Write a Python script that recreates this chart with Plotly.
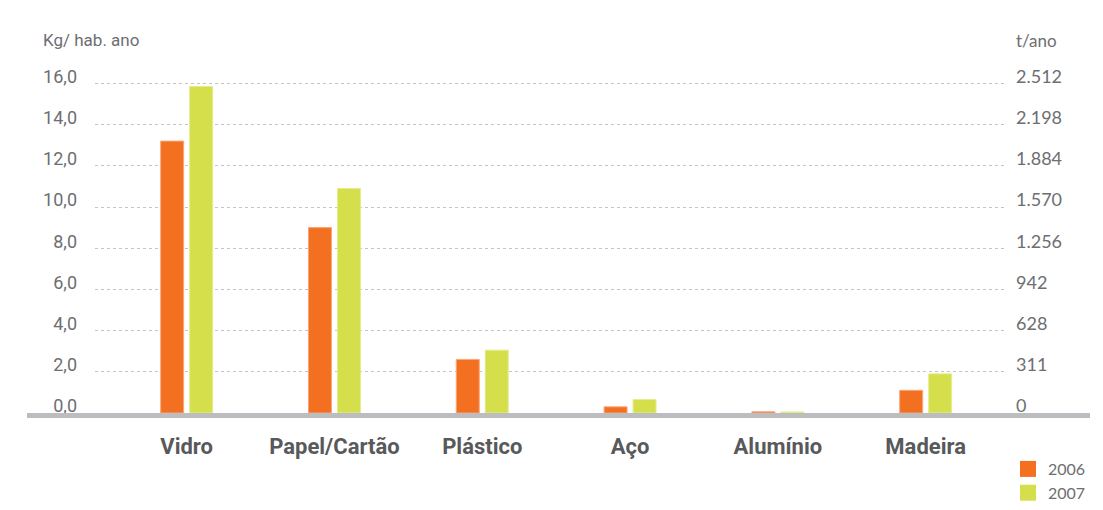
import plotly.graph_objects as go

categories = ["Vidro", "Papel/Cartão", "Plástico", "Aço", "Alumínio", "Madeira"]
values_2006 = [13.2, 9.0, 2.6, 0.3, 0.06, 1.1]
values_2007 = [15.85, 10.9, 3.05, 0.65, 0.05, 1.9]
series_names = ["2006", "2007"]

left_tick_vals = [0, 2, 4, 6, 8, 10, 12, 14, 16]
left_tick_text = ["0,0", "2,0", "4,0", "6,0", "8,0", "10,0", "12,0", "14,0", "16,0"]
right_tick_text = ["0", "311", "628", "942", "1.256", "1.570", "1.884", "2.198", "2.512"]

left_title = "Kg/ hab. ano"
right_title = "t/ano"

ORANGE = "#F37021"
GREEN = "#D4DF4B"
TICK_GRAY = "#6d6e71"
LABEL_GRAY = "#58595b"
FONT = "Roboto, 'Open Sans', sans-serif"

# page offset (default body margin) and target page-pixel geometry
OFF = 8
W, H = 1103 - 2 * OFF, 510 - 2 * OFF
L, R = 95 - OFF, 1004 - OFF
T, B = 69 - OFF, 413 - OFF
pw, ph = R - L, B - T


def px_x(p):
    return (p - OFF - L) / pw


def px_y(p):
    return (B - (p - OFF)) / ph


fig = go.Figure()
fig.add_trace(go.Bar(x=categories, y=values_2006, name=series_names[0], showlegend=False,
                     marker=dict(color=ORANGE, line=dict(color="#f8a57a", width=1))))
fig.add_trace(go.Bar(x=categories, y=values_2007, name=series_names[1], showlegend=False,
                     marker=dict(color=GREEN, line=dict(color="#e4ec8c", width=1))))
for nm, col in zip(series_names, [ORANGE, GREEN]):
    fig.add_trace(go.Scatter(x=[None], y=[None], mode="markers", name=nm,
                             marker=dict(symbol="square", size=22, color=col),
                             hoverinfo="skip"))
fig.add_trace(go.Scatter(x=[], y=[], yaxis="y2", showlegend=False, hoverinfo="skip"))

yr = [0, 16.7]
fig.update_layout(
    template="none",
    width=W, height=H,
    margin=dict(l=L, r=W - R, t=T, b=H - B, pad=0, autoexpand=False),
    plot_bgcolor="white", paper_bgcolor="white",
    barmode="group", bargap=0.608, bargroupgap=0.207,
    font=dict(family=FONT, color=TICK_GRAY),
    xaxis=dict(range=[-0.62, 5.53], showgrid=False, zeroline=False, showline=False,
               ticks="", ticklabelstandoff=18, automargin=False,
               tickfont=dict(size=22, color=LABEL_GRAY, family="Roboto", weight="bold")),
    yaxis=dict(range=yr, tickvals=left_tick_vals, ticktext=left_tick_text,
               showgrid=True, gridcolor="#c4c4c4", griddash="dot", gridwidth=1,
               zeroline=False, showline=False, ticks="", ticklabelstandoff=17,
               ticklabelshift=-7, automargin=False,
               tickfont=dict(size=18, color=TICK_GRAY)),
    yaxis2=dict(range=yr, overlaying="y", side="right", tickvals=left_tick_vals,
                ticktext=right_tick_text, showgrid=False, zeroline=False, showline=False,
                ticks="", ticklabelstandoff=11, ticklabelshift=-7, automargin=False,
                tickfont=dict(size=18, color=TICK_GRAY, family="Lato")),
    legend=dict(x=px_x(1008), xanchor="left", y=px_y(452), yanchor="top",
                font=dict(size=16, color=TICK_GRAY, family="Lato"),
                bgcolor="rgba(0,0,0,0)", tracegroupgap=0, itemwidth=30),
    showlegend=True,
)

# thick baseline
fig.add_shape(type="rect", xref="paper", yref="paper",
              x0=px_x(27), x1=px_x(1090), y0=-5 / ph, y1=0,
              fillcolor="#bcbdc0", line=dict(width=0), layer="above")

fig.add_annotation(text=left_title, xref="paper", yref="paper",
                   x=px_x(41), y=px_y(40), xanchor="left", yanchor="middle",
                   showarrow=False, font=dict(size=17, color=TICK_GRAY))
fig.add_annotation(text=right_title, xref="paper", yref="paper",
                   x=px_x(1014), y=px_y(40), xanchor="left", yanchor="middle",
                   showarrow=False, font=dict(size=17, color=TICK_GRAY, family="Lato"))

fig.write_html("out.html")
